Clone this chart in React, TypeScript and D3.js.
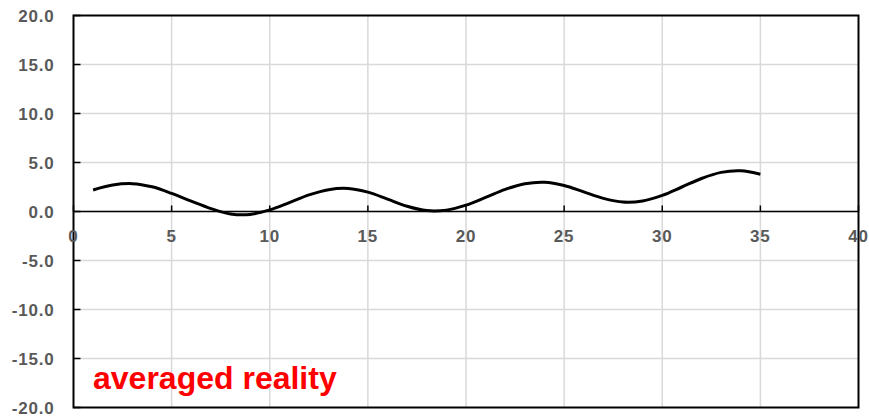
import { curveCatmullRom, line, scaleLinear } from 'd3';

const xValues = [
  1, 2, 3, 4, 5, 6, 7, 8, 9, 10, 11, 12, 13, 14, 15, 16, 17, 18, 19, 20, 21,
  22, 23, 24, 25, 26, 27, 28, 29, 30, 31, 32, 33, 34, 35,
];
const yValues = [
  2.2, 2.7, 2.84, 2.52, 1.85, 1.05, 0.3, -0.25, -0.3, 0.16, 0.91, 1.69, 2.23,
  2.35, 1.98, 1.27, 0.53, 0.09, 0.14, 0.65, 1.44, 2.26, 2.84, 2.99, 2.66, 2.0,
  1.34, 0.96, 1.07, 1.64, 2.5, 3.37, 3.99, 4.15, 3.8,
];
const xTicks = [0, 5, 10, 15, 20, 25, 30, 35, 40];
const yTicks = [20, 15, 10, 5, 0, -5, -10, -15, -20];
const label = 'averaged reality';

const W = 869;
const H = 420;
const font = 'Arial, "Liberation Sans", sans-serif';

export default function App() {
  const x = scaleLinear().domain([0, 40]).range([73.5, 858.5]);
  const y = scaleLinear().domain([-20, 20]).range([407.5, 15.5]);
  const data = xValues.map((v, i) => ({ x: v, y: yValues[i] }));

  const path = line<(typeof data)[number]>()
    .curve(curveCatmullRom)
    .x((d) => x(d.x))
    .y((d) => y(d.y));

  return (
    <svg
      width={W}
      height={H}
      style={{ position: 'absolute', left: 0, top: 0, background: '#fff' }}
    >
      {/* grid */}
      {xTicks.slice(1, -1).map((t) => (
        <line
          key={'gx' + t}
          x1={x(t)}
          x2={x(t)}
          y1={y(20)}
          y2={y(-20)}
          stroke="#d9d9d9"
          strokeWidth={1.5}
        />
      ))}
      {yTicks.slice(1, -1).map((t) => (
        <line
          key={'gy' + t}
          x1={x(0)}
          x2={x(40)}
          y1={y(t)}
          y2={y(t)}
          stroke="#d9d9d9"
          strokeWidth={1.5}
        />
      ))}
      {/* frame */}
      <rect
        x={x(0)}
        y={y(20)}
        width={x(40) - x(0)}
        height={y(-20) - y(20)}
        fill="none"
        stroke="#000"
        strokeWidth={2}
      />
      {/* zero axis */}
      <line x1={x(0)} x2={x(40)} y1={y(0)} y2={y(0)} stroke="#000" strokeWidth={1.5} />
      {xTicks.map((t) => (
        <line
          key={'tx' + t}
          x1={x(t)}
          x2={x(t)}
          y1={y(0)}
          y2={y(0) - 6}
          stroke="#000"
          strokeWidth={1.5}
        />
      ))}
      {yTicks.map((t) => (
        <line
          key={'ty' + t}
          x1={x(0)}
          x2={x(0) + 7}
          y1={y(t)}
          y2={y(t)}
          stroke="#000"
          strokeWidth={1.5}
        />
      ))}
      {/* tick labels */}
      {yTicks.map((t) => (
        <text
          key={'ly' + t}
          x={x(0) - 19}
          y={y(t)}
          dy="0.36em"
          textAnchor="end"
          fontFamily={font}
          fontWeight="bold"
          fontSize={17}
          letterSpacing={0.8}
          fill="#595959"
        >
          {t.toFixed(1)}
        </text>
      ))}
      {xTicks.map((t) => (
        <text
          key={'lx' + t}
          x={x(t)}
          y={y(0) + 24}
          dy="0.36em"
          textAnchor="middle"
          fontFamily={font}
          fontWeight="bold"
          fontSize={17}
          letterSpacing={0.8}
          fill="#595959"
        >
          {t}
        </text>
      ))}
      {/* series */}
      <path d={path(data) ?? ''} fill="none" stroke="#000" strokeWidth={3} />
      <text
        x={93}
        y={389}
        fontFamily={font}
        fontWeight="bold"
        fontSize={32}
        fill="#ff0000"
      >
        {label}
      </text>
    </svg>
  );
}
